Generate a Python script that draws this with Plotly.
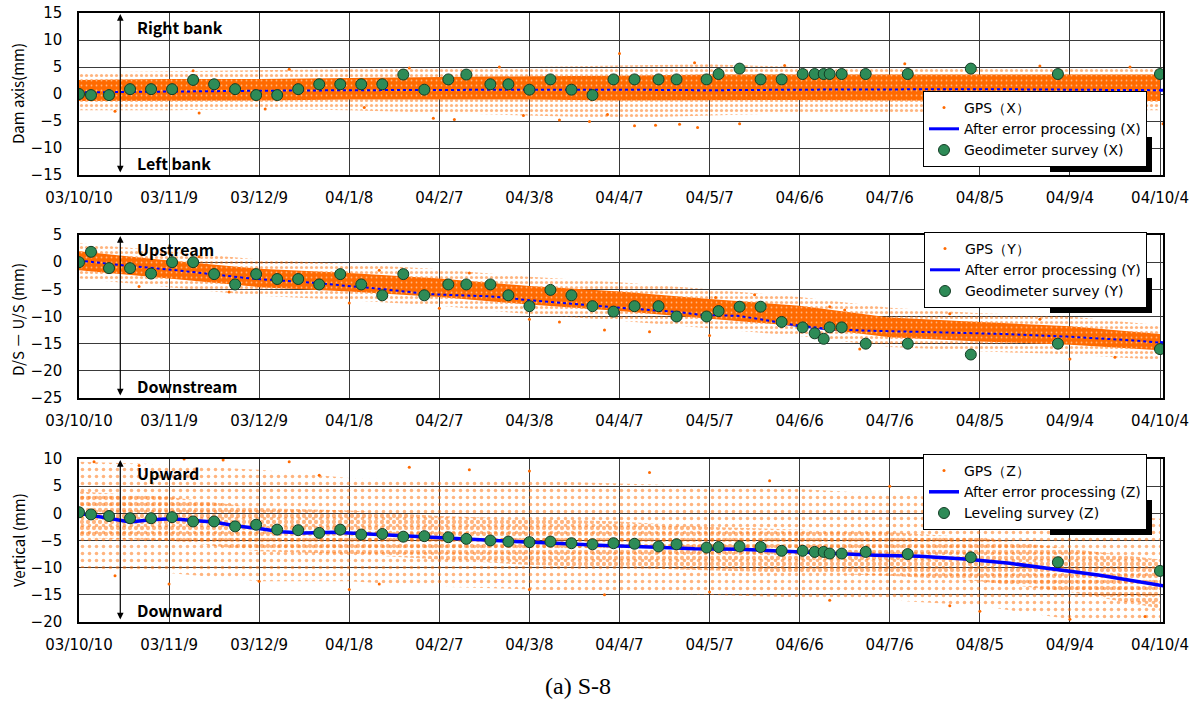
import plotly.graph_objects as go
import pandas as pd

# ---------------- data ----------------
BASE_DATE = "2003-10-10"
TICK_DAYS = [0, 30, 60, 90, 120, 150, 180, 210, 240, 270, 300, 330, 360]
TICK_LABELS = ["03/10/10", "03/11/9", "03/12/9", "04/1/8", "04/2/7", "04/3/8", "04/4/7",
               "04/5/7", "04/6/6", "04/7/6", "04/8/5", "04/9/4", "04/10/4"]
Y_TICKS_X = [-15, -10, -5, 0, 5, 10, 15]
Y_TICKS_Y = [-25, -20, -15, -10, -5, 0, 5]
Y_TICKS_Z = [-20, -15, -10, -5, 0, 5, 10]

# survey days (days after 2003-10-10)
SURVEY_DAYS = [0, 4, 10, 17, 24, 31, 38, 45, 52, 59, 66, 73, 80, 87, 94, 101, 108, 115, 123, 129,
               137, 143, 150, 157, 164, 171, 178, 185, 193, 199, 209, 213, 220, 227, 234, 241, 245,
               248, 250, 254, 262, 276, 297, 326, 360]
GEO_X = [0.0, -0.2, -0.2, 0.9, 0.9, 0.9, 2.6, 1.8, 0.9, -0.2, -0.2, 0.9, 1.8, 1.8, 1.8, 1.8, 3.6, 0.8,
         2.7, 3.6, 1.8, 1.8, 0.8, 2.7, 0.8, -0.2, 2.7, 2.7, 2.7, 2.7, 2.7, 3.7, 4.7, 2.7, 2.7, 3.7,
         3.7, 3.7, 3.7, 3.7, 3.7, 3.7, 4.7, 3.7, 3.7]
GEO_Y = [0.0, 1.9, -1.1, -1.1, -2.1, 0.0, 0.0, -2.2, -4.1, -2.2, -3.1, -3.1, -4.1, -2.2, -4.1, -6.1,
         -2.2, -6.1, -4.1, -4.1, -4.1, -6.1, -8.1, -5.1, -6.1, -8.1, -9.1, -8.1, -8.1, -10.0, -10.0,
         -9.0, -8.2, -8.2, -11.0, -12.0, -13.1, -14.1, -12.0, -12.0, -15.0, -15.0, -17.0, -15.0, -16.0]
LEV_Z = [0.2, -0.2, -0.5, -0.9, -0.9, -0.7, -1.5, -1.5, -2.4, -2.1, -3.0, -3.1, -3.6, -3.0, -3.9,
         -3.8, -4.3, -4.2, -4.4, -4.7, -5.0, -5.2, -5.3, -5.2, -5.5, -5.7, -5.5, -5.6, -6.1, -5.7,
         -6.3, -6.2, -6.1, -6.2, -6.9, -6.9, -7.1, -7.1, -7.4, -7.4, -7.1, -7.5, -8.1, -9.0, -10.6]

# after error processing lines
PROC_X_DAYS = [0, 15, 30, 45, 60, 90, 120, 150, 180, 210, 240, 270, 300, 330, 362]
PROC_X = [0.3, 0.4, 0.5, 0.5, 0.6, 0.7, 0.8, 0.8, 0.8, 0.7, 0.8, 0.9, 0.9, 0.8, 0.7]
PROC_Y_DAYS = [0, 15, 31, 45, 57, 78, 100, 117, 137, 150, 167, 185, 200, 207, 220, 230, 240, 250,
               262, 285, 307, 329, 351, 362]
PROC_Y = [0.3, -0.6, -1.4, -2.2, -3.0, -3.8, -4.9, -5.9, -6.3, -7.0, -7.8, -8.6, -9.2, -9.7, -9.9,
          -10.8, -11.7, -12.3, -12.6, -12.9, -13.2, -13.7, -14.4, -14.9]
PROC_Z_DAYS = [0, 10, 17, 24, 31, 38, 45, 52, 60, 67, 75, 85, 95, 105, 115, 125, 135, 145, 155,
               165, 175, 190, 205, 220, 235, 250, 265, 280, 295, 310, 325, 340, 350, 360, 363]
PROC_Z = [0.0, -1.0, -1.6, -1.2, -1.0, -1.3, -1.6, -2.3, -2.8, -3.4, -3.6, -3.5, -3.8, -4.1, -4.4,
          -4.6, -4.9, -5.2, -5.4, -5.7, -5.9, -6.2, -6.5, -6.6, -7.0, -7.4, -7.7, -7.9, -8.4, -9.2,
          -10.3, -11.4, -12.3, -13.2, -13.5]

# GPS cloud envelopes (dense core and sparse outer limits), sampled at the tick days
GPS_X_CORE_HI = [2.6, 2.8, 2.8, 3.0, 3.2, 3.3, 3.4, 3.6, 3.6, 3.6, 3.6, 3.6, 3.6]
GPS_X_CORE_LO = [-1.3, -1.2, -1.2, -1.0, -1.0, -1.0, -1.2, -1.2, -1.1, -1.2, -1.2, -1.3, -1.3]
GPS_X_OUT_HI = [4.0, 4.2, 4.3, 4.5, 4.8, 5.0, 5.3, 5.5, 5.0, 5.0, 5.0, 5.0, 4.8]
GPS_X_OUT_LO = [-3.0, -3.0, -2.8, -3.0, -3.5, -4.0, -4.5, -4.0, -3.5, -3.5, -3.5, -3.0, -3.0]
GPS_Y_CORE_HI = [2.0, 0.3, -1.2, -2.0, -3.0, -4.4, -5.4, -6.8, -8.0, -10.2, -11.0, -11.8, -13.2]
GPS_Y_CORE_LO = [-1.5, -3.0, -4.6, -5.4, -6.4, -7.8, -9.0, -10.4, -11.8, -13.8, -14.6, -15.2, -16.2]
GPS_Y_OUT_HI = [3.5, 2.0, 0.5, -0.3, -1.3, -2.7, -3.7, -5.0, -6.4, -8.4, -9.4, -10.0, -11.6]
GPS_Y_OUT_LO = [-3.0, -4.6, -6.2, -7.0, -8.0, -9.6, -10.8, -12.2, -13.6, -15.6, -16.4, -17.0, -18.0]
GPS_Z_CORE_HI = [4.0, 3.0, 1.0, 0.5, -0.5, -1.0, -1.5, -2.5, -3.0, -3.5, -4.5, -6.5, -8.5]
GPS_Z_CORE_LO = [-4.5, -5.0, -7.0, -7.5, -8.5, -9.5, -10.0, -10.5, -11.0, -11.5, -12.5, -14.5, -17.5]
GPS_Z_OUT_HI = [9.5, 9.0, 8.0, 6.5, 6.0, 6.0, 5.5, 5.0, 4.5, 3.5, 2.5, 0.5, -1.0]
GPS_Z_OUT_LO = [-10.0, -11.0, -12.5, -12.5, -13.5, -14.0, -14.5, -15.0, -15.5, -16.0, -17.0, -19.5, -20.0]

# individual scattered GPS readings outside the dense cloud
GPS_X_PT_DAYS = [12, 40, 62, 95, 118, 125, 148, 160, 170, 176, 185, 192, 200, 206, 220, 38, 70,
                 110, 140, 180, 205, 235, 275, 320, 350, 300, 361]
GPS_X_PT = [-3.2, -3.5, -2.8, -2.5, -4.5, -4.7, -4.0, -4.8, -5.1, -3.8, -5.9, -5.8, -5.6, -6.2,
            -5.5, 4.3, 4.6, 4.8, 5.0, 7.5, 5.8, 5.3, 5.6, 5.2, 5.0, -4.5, -5.5]
GPS_Y_PT_DAYS = [20, 50, 90, 120, 150, 160, 175, 212, 225, 250, 255, 290, 320, 190, 330, 345, 260,
                 40, 100, 130, 210]
GPS_Y_PT = [-4.5, -5.5, -7.5, -8.5, -10.5, -11.0, -12.5, -6.5, -6.0, -8.2, -8.8, -9.5, -10.5, -12.8,
            -17.8, -17.5, -16.0, 1.0, -1.5, -2.0, -13.5]
GPS_Z_PT_DAYS = [5, 12, 30, 35, 48, 60, 70, 90, 110, 130, 150, 175, 190, 210, 230, 250, 270, 290,
                 310, 330, 340, 355, 300, 150, 100, 20, 80]
GPS_Z_PT = [9.5, -11.5, -13.0, 10.0, 9.8, -12.5, 9.5, -14.0, 8.5, 8.0, 7.8, -15.0, 7.5, -14.5, 6.0,
            -16.0, 5.0, -17.0, 3.0, -19.5, 0.5, -19.0, -18.0, -14.0, -13.0, 8.8, 7.0]

# ---------------- styling ----------------
ORANGE = "#ff6a00"
BLUE = "#0000ff"
GREEN = "#2e8b57"
FONT = "Noto Sans CJK JP, Noto Sans, sans-serif"
TICKFONT = "DejaVu Sans, sans-serif"
base = pd.Timestamp(BASE_DATE)


def dates(days):
    return [base + pd.Timedelta(days=d) for d in days]


def polygon(hi, lo):
    d = dates(TICK_DAYS)
    return d + d[::-1], list(hi) + list(lo)[::-1]


panels = [
    dict(core=(GPS_X_CORE_HI, GPS_X_CORE_LO), out=(GPS_X_OUT_HI, GPS_X_OUT_LO),
         pts=(GPS_X_PT_DAYS, GPS_X_PT), proc=(PROC_X_DAYS, PROC_X), srv=GEO_X, yt=Y_TICKS_X,
         names=("GPS（X）", "After error processing (X)", "Geodimeter survey (X)"),
         rng=[-15, 15], title="Dam axis(mm)", top="Right bank", bot="Left bank", dense=True),
    dict(core=(GPS_Y_CORE_HI, GPS_Y_CORE_LO), out=(GPS_Y_OUT_HI, GPS_Y_OUT_LO),
         pts=(GPS_Y_PT_DAYS, GPS_Y_PT), proc=(PROC_Y_DAYS, PROC_Y), srv=GEO_Y, yt=Y_TICKS_Y,
         names=("GPS（Y）", "After error processing (Y)", "Geodimeter survey (Y)"),
         rng=[-25, 5], title="D/S － U/S (mm)", top="Upstream", bot="Downstream", dense=True),
    dict(core=(GPS_Z_CORE_HI, GPS_Z_CORE_LO), out=(GPS_Z_OUT_HI, GPS_Z_OUT_LO),
         pts=(GPS_Z_PT_DAYS, GPS_Z_PT), proc=(PROC_Z_DAYS, PROC_Z), srv=LEV_Z, yt=Y_TICKS_Z,
         names=("GPS（Z）", "After error processing (Z)", "Leveling survey (Z)"),
         rng=[-20, 10], title="Vertical (mm)", top="Upward", bot="Downward", dense=False),
]

# pixel layout (reference pixels): plot area x 79..1163, panels at y 13-175, 235-398, 459-622
W, H = 1202, 704
ML, MR, MT, MB = 79, 39, 13, 82
PW = 1163 - 79
PH = 622 - 13
pix_panels = [(13, 175), (235, 398), (459, 622)]
legend_boxes = [(108, 167), (244, 308), (466, 530)]


def py(p):
    return (622 - p) / PH


def px(p):
    return (p - 79) / PW


fig = go.Figure()
shapes, annotations = [], []
layout = {}
for i, p in enumerate(panels, start=1):
    xa, ya = f"x{i}" if i > 1 else "x", f"y{i}" if i > 1 else "y"
    lg = f"legend{i}" if i > 1 else "legend"
    ox, oy = polygon(*p["out"])
    cx, cy = polygon(*p["core"])
    pd_x, pd_y = dates(p["proc"][0]), p["proc"][1]
    # sparse outer part of the GPS cloud
    fig.add_trace(go.Scatter(x=ox, y=oy, fill="toself", mode="lines", line=dict(width=0),
                             fillcolor="rgba(0,0,0,0)",
                             fillpattern=dict(shape=".", fgcolor=ORANGE, bgcolor="rgba(0,0,0,0)",
                                              size=5 if p["dense"] else 7,
                                              solidity=0.32 if p["dense"] else 0.2),
                             hoverinfo="skip", showlegend=False, xaxis=xa, yaxis=ya))
    proc_trace = go.Scatter(x=pd_x, y=pd_y, mode="lines",
                            line=dict(color=BLUE, width=3 if p["dense"] else 3.5),
                            name=p["names"][1], legend=lg, legendrank=2, xaxis=xa, yaxis=ya)
    if p["dense"]:
        fig.add_trace(proc_trace)
        fig.add_trace(go.Scatter(x=cx, y=cy, fill="toself", mode="lines", line=dict(width=0),
                                 fillcolor=ORANGE,
                                 fillpattern=dict(shape=".", fgcolor="white", bgcolor=ORANGE,
                                                  size=5, solidity=0.1),
                                 hoverinfo="skip", showlegend=False, xaxis=xa, yaxis=ya))
        # processed line glimpsed through the dense cloud
        fig.add_trace(go.Scatter(x=pd_x, y=pd_y, mode="lines",
                                 line=dict(color=BLUE, width=2, dash="dot"),
                                 hoverinfo="skip", showlegend=False, xaxis=xa, yaxis=ya))
    else:
        fig.add_trace(go.Scatter(x=cx, y=cy, fill="toself", mode="lines", line=dict(width=0),
                                 fillcolor="rgba(0,0,0,0)",
                                 fillpattern=dict(shape=".", fgcolor=ORANGE,
                                                  bgcolor="rgba(0,0,0,0)", size=6, solidity=0.4),
                                 hoverinfo="skip", showlegend=False, xaxis=xa, yaxis=ya))
    fig.add_trace(go.Scatter(x=dates(p["pts"][0]), y=p["pts"][1], mode="markers",
                             marker=dict(color=ORANGE, size=3), name=p["names"][0],
                             legend=lg, legendrank=1, xaxis=xa, yaxis=ya))
    if not p["dense"]:
        fig.add_trace(proc_trace)
    fig.add_trace(go.Scatter(x=dates(SURVEY_DAYS), y=p["srv"], mode="markers",
                             marker=dict(color=GREEN, size=11, line=dict(color="#143d25", width=1)),
                             name=p["names"][2], legend=lg, legendrank=3, xaxis=xa, yaxis=ya))

    top, bot = pix_panels[i - 1]
    dom = [py(bot), py(top)]
    layout[f"xaxis{i if i > 1 else ''}"] = dict(
        domain=[0, 1], anchor=ya, type="date", automargin=False,
        range=[base, base + pd.Timedelta(days=361)],
        tickvals=dates(TICK_DAYS), ticktext=TICK_LABELS, ticks="", ticklabelstandoff=8,
        ticklabeloverflow="allow",
        showgrid=True, gridcolor="#3a3a3a", gridwidth=1,
        showline=True, linecolor="black", linewidth=1.5, mirror=True,
        tickfont=dict(family=TICKFONT, size=15, color="black"), zeroline=False)
    layout[f"yaxis{i if i > 1 else ''}"] = dict(
        domain=dom, anchor=xa, range=p["rng"], tickvals=p["yt"], ticks="", automargin=False,
        ticklabelstandoff=12, ticklabeloverflow="allow",
        showgrid=True, gridcolor="#3a3a3a", gridwidth=1, zeroline=False,
        showline=True, linecolor="black", linewidth=1.5, mirror=True,
        tickfont=dict(family=TICKFONT, size=15, color="black"))
    ltop, lbot = legend_boxes[i - 1]
    layout[lg] = dict(x=px(1147), xanchor="right", y=py(lbot), yanchor="bottom",
                      bgcolor="white", bordercolor="black", borderwidth=1,
                      font=dict(family=TICKFONT, size=14, color="black"),
                      tracegroupgap=0, itemwidth=30)
    # legend shadow (only its right and bottom edges show)
    shapes.append(dict(type="rect", xref="paper", yref="paper", x0=px(1050), x1=px(1152),
                       y0=py(lbot + 5), y1=py(lbot - 30), fillcolor="black", line=dict(width=0),
                       layer="above"))
    # direction arrow + labels
    arrow_x = base + pd.Timedelta(hours=13.75 * 24)
    lo_, hi_ = p["rng"]
    annotations.append(dict(x=arrow_x, y=hi_ - 0.2, ax=arrow_x, ay=lo_ + 0.2,
                            xref=xa, yref=ya, axref=xa, ayref=ya, text="", showarrow=True,
                            arrowhead=2, arrowside="end+start", arrowsize=1.1, arrowwidth=1.2,
                            arrowcolor="black"))
    label_x = base + pd.Timedelta(days=18.5)
    annotations.append(dict(x=label_x, y=hi_ - 2.6, xref=xa, yref=ya, text=f"<b>{p['top']}</b>",
                            showarrow=False, xanchor="left", yanchor="middle",
                            font=dict(family=FONT, size=16, color="black")))
    annotations.append(dict(x=label_x, y=lo_ + 2.3, xref=xa, yref=ya, text=f"<b>{p['bot']}</b>",
                            showarrow=False, xanchor="left", yanchor="middle",
                            font=dict(family=FONT, size=16, color="black")))
    # y-axis title
    title_center = [94, 320, 540][i - 1]
    annotations.append(dict(x=px(18), y=py(title_center), xref="paper", yref="paper",
                            text=p["title"], textangle=-90, showarrow=False,
                            xanchor="center", yanchor="middle",
                            font=dict(family=FONT, size=15, color="black")))

annotations.append(dict(x=px(578), y=py(686), xref="paper", yref="paper", text="(a) S-8",
                        showarrow=False, xanchor="center", yanchor="middle",
                        font=dict(family="Liberation Serif, Times New Roman, serif", size=24,
                                  color="black")))

fig.update_layout(width=W, height=H, margin=dict(l=ML, r=MR, t=MT, b=MB, autoexpand=False),
                  paper_bgcolor="white", plot_bgcolor="white",
                  shapes=shapes, annotations=annotations, **layout)
# remove the browser's default 8px page margin so the figure sits at the window origin
fig.write_html("out.html", config={"displayModeBar": False},
               post_script="document.body.style.margin='0';document.body.style.overflow='hidden';")
